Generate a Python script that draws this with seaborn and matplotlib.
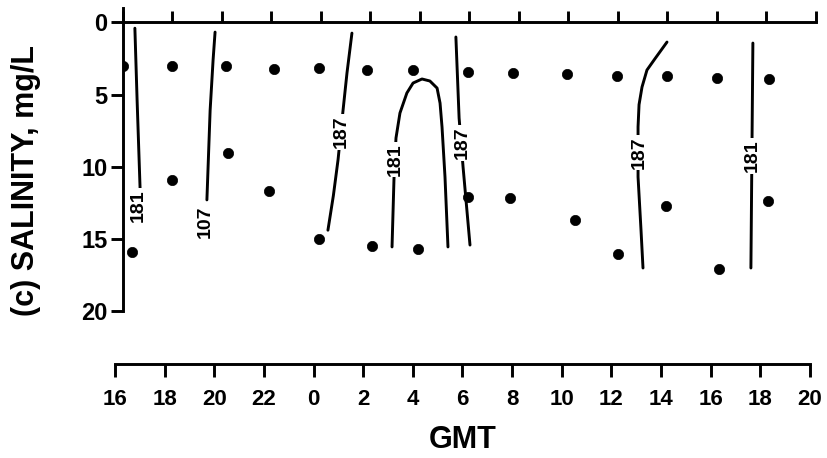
import numpy as np
import pandas as pd
import seaborn as sns
import matplotlib
matplotlib.use("Agg")
import matplotlib.pyplot as plt

# ---------------- data ----------------
# time axis: hours elapsed since 16 GMT (day 1) -> tick labels in GMT
tick_hours = list(range(0, 29, 2))
tick_labels = ["16", "18", "20", "22", "0", "2", "4", "6", "8", "10",
               "12", "14", "16", "18", "20"]
depth_ticks = [0, 5, 10, 15, 20]

# sample points (upper row and lower row)
shallow_hours = [0.0, 2.0, 4.15, 6.1, 7.9, 9.85, 11.7, 13.95, 15.75, 17.95,
                 19.95, 22.0, 24.0, 26.1]
shallow_depth = [3.0, 3.0, 3.0, 3.2, 3.15, 3.3, 3.3, 3.45, 3.5, 3.6,
                 3.7, 3.7, 3.85, 3.9]
deep_hours = [0.35, 2.0, 4.25, 5.9, 7.9, 10.05, 11.9, 13.95, 15.65, 18.25,
              20.0, 21.95, 24.1, 26.05]
deep_depth = [15.9, 10.9, 9.05, 11.7, 15.0, 15.5, 15.7, 12.1, 12.2, 13.7,
              16.05, 12.7, 17.1, 12.4]

# isolines (hours, depth) and their labels
c1_hours = [0.48, 0.57, 0.69]
c1_depth = [0.4, 5.4, 11.5]
c1_label = ("181", 0.63, 12.7)

c2_hours = [3.72, 3.64, 3.52, 3.39]
c2_depth = [0.67, 2.6, 6.1, 12.3]
c2_label = ("107", 3.31, 13.8)

c3_hours = [9.25, 9.05, 8.89, 8.69, 8.5, 8.28]
c3_depth = [0.74, 3.5, 6.1, 9.5, 12.0, 14.4]
c3_label = ("187", 8.81, 7.6)

c4_hours = [10.87, 10.95, 11.03, 11.19, 11.47, 11.72, 12.08, 12.4, 12.69,
            12.81, 12.89, 13.01, 13.13]
c4_depth = [15.56, 10.78, 8.01, 6.28, 4.89, 4.2, 3.92, 4.06, 4.55,
            5.59, 7.25, 10.71, 15.56]
c4_label = ("181", 11.0, 9.5)

c5_hours = [13.45, 13.58, 13.74, 14.02]
c5_depth = [1.01, 6.63, 10.02, 15.43]
c5_label = ("187", 13.72, 8.36)

c6_hours = [21.98, 21.5, 21.17, 20.97, 20.85, 20.81, 20.81, 20.93, 21.01]
c6_depth = [1.36, 2.5, 3.3, 4.48, 5.7, 7.24, 10.71, 14.4, 17.02]
c6_label = ("187", 20.87, 9.0)

c7_hours = [25.45, 25.41, 25.37]
c7_depth = [1.43, 9.2, 17.02]
c7_label = ("181", 25.41, 9.26)

contours = [(c1_hours, c1_depth, c1_label), (c2_hours, c2_depth, c2_label),
            (c3_hours, c3_depth, c3_label), (c4_hours, c4_depth, c4_label),
            (c5_hours, c5_depth, c5_label), (c6_hours, c6_depth, c6_label),
            (c7_hours, c7_depth, c7_label)]

# ---------------- style ----------------
sns.set_theme(style="white")
plt.rcParams["font.family"] = ["Liberation Sans", "DejaVu Sans"]
plt.rcParams["font.weight"] = "bold"
for key in ["text.color", "axes.labelcolor", "xtick.color", "ytick.color",
            "axes.edgecolor"]:
    plt.rcParams[key] = "black"

W, H = 828, 458
fig = plt.figure(figsize=(W / 100, H / 100), dpi=100)
fig.patch.set_facecolor("white")


def rect(l, t, r, b):
    return [l / W, 1 - b / H, (r - l) / W, (b - t) / H]


LW = 2.1

# ---------------- main panel ----------------
ax = fig.add_axes(rect(123, 8, 816, 311))
ax.set_facecolor("none")

pts = pd.DataFrame({
    "hours": shallow_hours + deep_hours,
    "depth": shallow_depth + deep_depth,
})
sns.scatterplot(data=pts, x="hours", y="depth", color="black", s=55,
                edgecolor="black", linewidth=0.5, ax=ax, zorder=3,
                legend=False)

for hx, dy, (txt, lx, ly) in contours:
    sns.lineplot(x=hx, y=dy, sort=False, estimator=None, color="black",
                 lw=LW, ax=ax, zorder=2)
    ax.text(lx, ly, txt, rotation=90, ha="center", va="center",
            fontsize=14, fontweight="bold", color="black", zorder=4,
            bbox=dict(facecolor="white", edgecolor="none", pad=1.0))

ax.set_xlim(0, 28)
ax.set_ylim(20, -1)
for s in ["right", "bottom"]:
    ax.spines[s].set_visible(False)
ax.spines["top"].set_position(("data", 0))
for s in ["top", "left"]:
    ax.spines[s].set_color("black")
    ax.spines[s].set_linewidth(LW)

ax.xaxis.set_ticks_position("top")
ax.set_xticks(tick_hours)
ax.tick_params(axis="x", which="both", direction="out", length=8,
               width=LW, color="black", labeltop=False, labelbottom=False,
               top=True, bottom=False)
ax.set_yticks(depth_ticks)
ax.set_yticklabels([str(v) for v in depth_ticks])
ax.tick_params(axis="y", direction="out", length=9, width=LW,
               color="black", labelcolor="black", labelsize=17, pad=2,
               left=True)
for t in ax.get_yticklabels():
    t.set_fontweight("bold")
ax.set_xlabel("")
ax.set_ylabel("(c) SALINITY, mg/L", fontsize=22, fontweight="bold",
              va="center", color="black")
ax.yaxis.set_label_coords((26 - 123) / 693, (311 - 181) / 303)
ax.grid(False)

# ---------------- separate time axis ----------------
ax2 = fig.add_axes(rect(115, 354, 810, 364))
ax2.set_facecolor("none")
ax2.set_xlim(0, 28)
ax2.set_ylim(0, 1)
for s in ["top", "left", "right"]:
    ax2.spines[s].set_visible(False)
ax2.spines["bottom"].set_color("black")
ax2.spines["bottom"].set_linewidth(LW)
ax2.set_yticks([])
ax2.set_xticks(tick_hours)
ax2.set_xticklabels(tick_labels)
ax2.tick_params(axis="x", direction="out", length=9, width=LW,
                color="black", labelcolor="black", labelsize=16, pad=9,
                bottom=True)
for t in ax2.get_xticklabels():
    t.set_fontweight("bold")
ax2.set_xlabel("GMT", fontsize=22, fontweight="bold", labelpad=11,
               color="black")
ax2.grid(False)

fig.savefig("out.png", dpi=100, facecolor="white")
